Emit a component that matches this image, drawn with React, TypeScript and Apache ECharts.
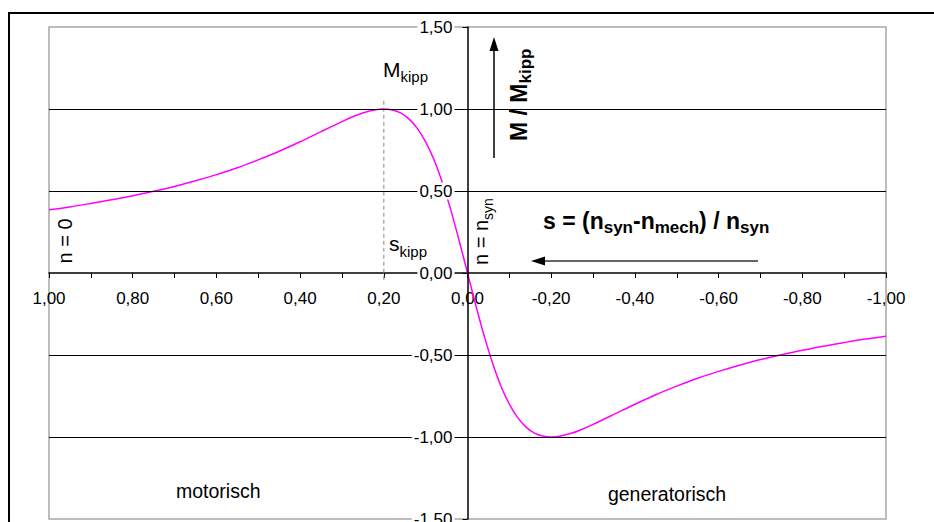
import React, { useEffect, useRef } from "react";
import * as echarts from "echarts";

// slip s (x axis, runs from 1 on the left to -1 on the right)
const slip = [
  1.0, 0.95, 0.9, 0.85, 0.8, 0.75, 0.7, 0.65, 0.6, 0.55, 0.5, 0.45, 0.4, 0.35, 0.3, 0.27, 0.25, 0.22, 0.2,
  0.18, 0.16, 0.14, 0.12, 0.1, 0.08, 0.06, 0.04, 0.02, 0.0,
  -0.02, -0.04, -0.06, -0.08, -0.1, -0.12, -0.14, -0.16, -0.18, -0.2, -0.22, -0.25, -0.27, -0.3, -0.35,
  -0.4, -0.45, -0.5, -0.55, -0.6, -0.65, -0.7, -0.75, -0.8, -0.85, -0.9, -0.95, -1.0,
];
// torque M / Mkipp
const torque = [
  0.385, 0.403, 0.424, 0.446, 0.471, 0.498, 0.528, 0.562, 0.6, 0.642, 0.69, 0.742, 0.8, 0.862, 0.923, 0.957, 0.976, 0.995, 1.0,
  0.994, 0.976, 0.94, 0.882, 0.8, 0.69, 0.55, 0.385, 0.198, 0.0,
  -0.198, -0.385, -0.55, -0.69, -0.8, -0.882, -0.94, -0.976, -0.994, -1.0, -0.995, -0.976, -0.957, -0.923, -0.862,
  -0.8, -0.742, -0.69, -0.642, -0.6, -0.562, -0.528, -0.498, -0.471, -0.446, -0.424, -0.403, -0.385,
];
const sKipp = 0.2;
const kippMarker = [1.05, -0.06];
const gridLevels = [1.0, 0.5, -0.5, -1.0];
const xRange = [-1, 1];
const yRange = [-1.5, 1.5];

const FONT = "Liberation Sans, Arial, sans-serif";

const fmt = (v: number) => {
  const r = Math.round(v * 100) / 100;
  return (r === 0 ? 0 : r).toFixed(2).replace(".", ",");
};

const W = 934;
const H = 522;
const G = { left: 49, right: 48, top: 27, bottom: 3 };

export default function App() {
  const ref = useRef<HTMLDivElement>(null);
  useEffect(() => {
    document.body.style.margin = "0";
    const chart = echarts.init(ref.current!, undefined, { renderer: "svg" });
    const curve = slip.map((s, i) => [s, torque[i]]);

    const gw = W - G.left - G.right;
    const gh = H - G.top - G.bottom;
    // put the axes through the origin (x = 0, y = 0)
    const xZeroFrac = (0 - xRange[0]) / (xRange[1] - xRange[0]);
    const yZeroFrac = (0 - yRange[0]) / (yRange[1] - yRange[0]);
    const yAxisOffset = -gw * xZeroFrac;
    const xAxisOffset = -gh * yZeroFrac;

    const subRich = (main: number, sub: number, bold: boolean, pad: number) => ({
      m: {
        fontSize: main,
        lineHeight: main,
        fontFamily: FONT,
        fontWeight: bold ? "bold" : "normal",
        fill: "#000",
        verticalAlign: "bottom",
        padding: [0, 0, pad, 0],
      },
      s: {
        fontSize: sub,
        lineHeight: sub,
        fontFamily: FONT,
        fontWeight: bold ? "bold" : "normal",
        fill: "#000",
        verticalAlign: "bottom",
      },
    });

    chart.setOption({
      animation: false,
      backgroundColor: "#fff",
      grid: {
        ...G,
        outerBoundsMode: "none",
        containLabel: false,
        show: true,
        borderColor: "#a6a6a6",
        borderWidth: 1.5,
      },
      xAxis: {
        type: "value",
        min: xRange[0],
        max: xRange[1],
        interval: 0.1,
        inverse: true,
        position: "bottom",
        offset: xAxisOffset,
        axisLine: { onZero: false, lineStyle: { color: "#000", width: 1.5 } },
        axisTick: { show: true, length: 5, lineStyle: { color: "#000" } },
        axisLabel: {
          formatter: (v: number) => (Math.round(v * 10) % 2 === 0 ? fmt(v) : ""),
          margin: 17,
          color: "#000",
          fontSize: 17,
          fontFamily: FONT,
          showMinLabel: true,
          showMaxLabel: true,
        },
        splitLine: { show: false },
      },
      yAxis: {
        type: "value",
        min: yRange[0],
        max: yRange[1],
        interval: 0.5,
        z: 10,
        position: "left",
        offset: yAxisOffset,
        axisLine: { onZero: false, lineStyle: { color: "#000", width: 1.5 } },
        axisTick: { show: true, length: 5, lineStyle: { color: "#000" } },
        axisLabel: {
          formatter: fmt,
          margin: 13,
          color: "#000",
          fontSize: 17,
          fontFamily: FONT,
          backgroundColor: "#fff",
          padding: [0, 2, 0, 2],
          showMinLabel: true,
          showMaxLabel: true,
        },
        splitLine: { show: false },
      },
      series: [
        {
          type: "line",
          z: 2,
          data: kippMarker.map((y) => [sKipp, y]),
          symbol: "none",
          silent: true,
          lineStyle: { color: "#9a9a9a", width: 1.2, type: [4, 3] },
          markLine: {
            silent: true,
            symbol: ["none", "none"],
            label: { show: false },
            lineStyle: { color: "#000", type: "solid", width: 1.2 },
            data: gridLevels.map((y) => ({ yAxis: y })),
          },
        },
        {
          type: "line",
          z: 4,
          data: curve,
          smooth: 0.3,
          symbol: "none",
          lineStyle: { color: "#ff00ff", width: 1.5 },
        },
      ],
      graphic: [
        {
          type: "rect",
          shape: { x: 9, y: 13, width: 1000, height: 1000 },
          style: { fill: "none", stroke: "#000", lineWidth: 2 },
          silent: true,
        },
        {
          type: "text",
          x: 383,
          y: 63,
          style: {
            text: "{m|M}{s|kipp}",
            rich: subRich(21, 15, false, 4),
            align: "left",
            verticalAlign: "top",
          },
        },
        {
          type: "text",
          x: 389,
          y: 238,
          style: {
            text: "{m|s}{s|kipp}",
            rich: subRich(21, 15, false, 5),
            align: "left",
            verticalAlign: "top",
          },
        },
        {
          type: "text",
          x: 65,
          y: 241,
          rotation: Math.PI / 2,
          style: {
            text: "n = 0",
            font: `20px ${FONT}`,
            fill: "#000",
            align: "center",
            verticalAlign: "middle",
          },
        },
        {
          type: "text",
          x: 475,
          y: 265,
          rotation: Math.PI / 2,
          style: {
            text: "{m|n = n}{s|syn}",
            rich: subRich(20, 14, false, 4),
            align: "left",
            verticalAlign: "top",
          },
        },
        {
          type: "text",
          x: 511,
          y: 141,
          rotation: Math.PI / 2,
          style: {
            text: "{m|M / M}{s|kipp}",
            rich: subRich(23, 17, true, 4),
            align: "left",
            verticalAlign: "top",
          },
        },
        {
          type: "text",
          x: 543,
          y: 213,
          style: {
            text: "{m|s = (n}{s|syn}{m|-n}{s|mech}{m|) / n}{s|syn}",
            rich: subRich(23, 17, true, 4),
            align: "left",
            verticalAlign: "top",
          },
        },
        {
          type: "line",
          shape: { x1: 494, y1: 158, x2: 494, y2: 48 },
          style: { stroke: "#000", lineWidth: 1.5 },
        },
        {
          type: "polygon",
          shape: { points: [[494, 37], [489.5, 51], [498.5, 51]] },
          style: { fill: "#000" },
        },
        {
          type: "line",
          shape: { x1: 758, y1: 261, x2: 542, y2: 261 },
          style: { stroke: "#333", lineWidth: 1.5 },
        },
        {
          type: "polygon",
          shape: { points: [[531, 261], [545, 256.5], [545, 265.5]] },
          style: { fill: "#000" },
        },
        {
          type: "text",
          x: 176,
          y: 491,
          style: {
            text: "motorisch",
            font: `19.5px ${FONT}`,
            fill: "#000",
            align: "left",
            verticalAlign: "middle",
          },
        },
        {
          type: "text",
          x: 667,
          y: 494,
          style: {
            text: "generatorisch",
            font: `19.5px ${FONT}`,
            fill: "#000",
            align: "center",
            verticalAlign: "middle",
          },
        },
      ],
    });
    return () => chart.dispose();
  }, []);
  return <div ref={ref} style={{ width: W, height: H }} />;
}
